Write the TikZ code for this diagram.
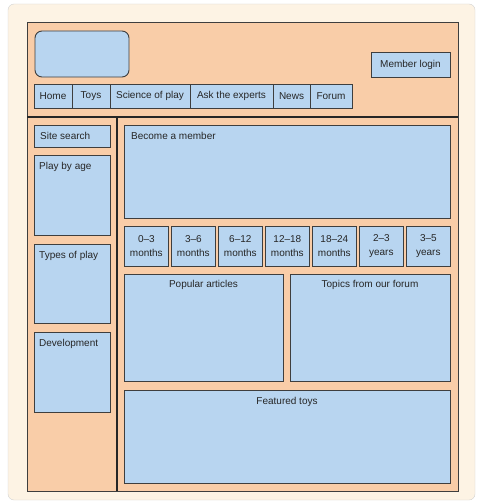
\documentclass[tikz,border=0pt]{standalone}
\usepackage{fontspec}
\setmainfont{Liberation Sans}
\usepackage{xcolor}
\usetikzlibrary{positioning}
\definecolor{creambg}{RGB}{253,243,228}
\definecolor{peach}{RGB}{249,205,168}
\definecolor{skyblue}{RGB}{184,213,240}
\definecolor{inkgray}{RGB}{62,62,62}
\tikzset{frame/.style={rectangle, rounded corners=6pt, draw=black!18, fill=creambg, anchor=north west, inner sep=0pt, outer sep=0pt}, page/.style={rectangle, draw=inkgray, line width=0.8pt, fill=peach, anchor=north west, inner sep=0pt, outer sep=0pt}, panel/.style={rectangle, draw=inkgray, line width=0.9pt, fill=skyblue, anchor=north west, inner sep=0pt, outer sep=0pt, font=\fontsize{10}{12}\selectfont, text=black!85}, navitem/.style={panel, minimum height=24pt}, agebox/.style={panel, minimum width=43.7pt, minimum height=40pt, align=center, font=\fontsize{10}{14}\selectfont}, caption/.style={inner sep=0pt, font=\fontsize{10}{12}\selectfont, text=black!85}, divider/.style={draw=black!85, line width=1.6pt}}

\begin{document}
\begin{tikzpicture}[x=1pt, y=-1pt]
\useasboundingbox (0,0) rectangle (485,503);
\node[frame, minimum width=467pt, minimum height=496pt] (frame) at (8,4) {};
\node[page, minimum width=431pt, minimum height=469pt] (page) at (27,22) {};
% header
\node[panel, rounded corners=7pt, minimum width=94pt, minimum height=46pt] (logo) at (35,31) {};
\node[panel, minimum width=79pt, minimum height=25pt] (login) at (371,52) {Member login};
\node[navitem, minimum width=38pt] (home) at (34,84) {Home};
\node[navitem, minimum width=38pt, right=0pt of home] (toys) {Toys};
\node[navitem, minimum width=80pt, right=0pt of toys] (science) {Science of play};
\node[navitem, minimum width=83pt, right=0pt of science] (experts) {Ask the experts};
\node[navitem, minimum width=37pt, right=0pt of experts] (news) {News};
\node[navitem, minimum width=42pt, right=0pt of news] (forum) {Forum};
\coordinate (hl) at (27,117);
\coordinate (vl) at (117,117);
\draw[divider] (page.west |- hl) -- (page.east |- hl);
\draw[divider] (vl) -- (vl |- page.south);
% left column
\node[panel, minimum width=76pt, minimum height=22pt] (search) at (34,125) {};
\node[caption, right=6pt of search.west] (searchtext) {Site search};
\node[panel, minimum width=76pt, minimum height=80pt] (age) at (34,155) {};
\node[caption, below right=7pt and 5pt of age.north west] (agetext) {Play by age};
\node[panel, minimum width=76pt, minimum height=79pt] (types) at (34,244) {};
\node[caption, below right=7pt and 5pt of types.north west] (typestext) {Types of play};
\node[panel, minimum width=76pt, minimum height=80pt] (develop) at (34,332) {};
\node[caption, below right=7pt and 5pt of develop.north west] (developtext) {Development};
% right column
\node[panel, minimum width=326pt, minimum height=93pt] (member) at (124,125) {};
\node[caption, below right=7pt and 7pt of member.north west] (membertext) {Become a member};
\node[agebox] (m0) at (124.5,226) {0--3\\months};
\node[agebox, right=3.3pt of m0] (m3) {3--6\\months};
\node[agebox, right=3.3pt of m3] (m6) {6--12\\months};
\node[agebox, right=3.3pt of m6] (m12) {12--18\\months};
\node[agebox, right=3.3pt of m12] (m18) {18--24\\months};
\node[agebox, right=3.3pt of m18] (y2) {2--3\\years};
\node[agebox, right=3.3pt of y2] (y3) {3--5\\years};
\node[panel, minimum width=159pt, minimum height=107pt] (popular) at (124,274) {};
\node[caption, below=6pt of popular.north] (populartext) {Popular articles};
\node[panel, minimum width=160pt, minimum height=107pt] (topics) at (290,274) {};
\node[caption, below=6pt of topics.north] (topicstext) {Topics from our forum};
\node[panel, minimum width=326pt, minimum height=93pt] (featured) at (124,390) {};
\node[caption, below=7pt of featured.north] (featuredtext) {Featured toys};
\end{tikzpicture}
\end{document}
